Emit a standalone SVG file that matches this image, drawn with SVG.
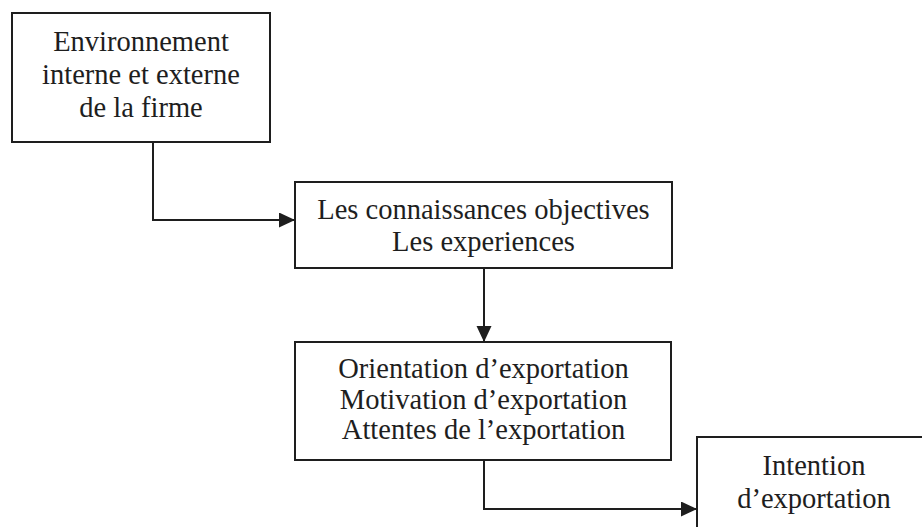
<svg xmlns="http://www.w3.org/2000/svg" width="922" height="527" viewBox="0 0 922 527">
  <style>
    .box { fill: #ffffff; stroke: #1e1e1e; stroke-width: 2; }
    .lbl { font-family: "Liberation Serif", "Times New Roman", serif; font-size: 28.5px; fill: #1e1e1e; text-anchor: middle; }
    .link { fill: none; stroke: #1e1e1e; stroke-width: 2; }
  </style>
  <defs>
    <marker id="arrow" markerUnits="userSpaceOnUse" markerWidth="17" markerHeight="16" refX="16" refY="7.5" orient="auto">
      <path d="M0,0 L16,7.5 L0,15 Z" fill="#1e1e1e"/>
    </marker>
  </defs>
  <rect width="922" height="527" fill="#ffffff"/>

  <g id="connectors">
    <path class="link" d="M153,142 V220 H295" marker-end="url(#arrow)"/>
    <path class="link" d="M484,268 V342" marker-end="url(#arrow)"/>
    <path class="link" d="M484,460 V509 H697" marker-end="url(#arrow)"/>
  </g>

  <g id="environnement">
    <rect class="box" x="12" y="13" width="258" height="129"/>
    <text class="lbl" x="141" y="51">Environnement</text>
    <text class="lbl" x="141" y="84">interne et externe</text>
    <text class="lbl" x="141" y="117">de la firme</text>
  </g>

  <g id="connaissances">
    <rect class="box" x="295" y="182" width="377" height="86"/>
    <text class="lbl" x="483.5" y="219">Les connaissances objectives</text>
    <text class="lbl" x="483.5" y="251">Les experiences</text>
  </g>

  <g id="orientation">
    <rect class="box" x="295" y="342" width="376" height="118"/>
    <text class="lbl" x="483.5" y="378">Orientation d’exportation</text>
    <text class="lbl" x="483.5" y="409">Motivation d’exportation</text>
    <text class="lbl" x="483.5" y="439">Attentes de l’exportation</text>
  </g>

  <g id="intention">
    <rect class="box" x="697" y="437" width="236" height="110"/>
    <text class="lbl" x="814" y="475">Intention</text>
    <text class="lbl" x="814" y="508">d’exportation</text>
  </g>
</svg>
